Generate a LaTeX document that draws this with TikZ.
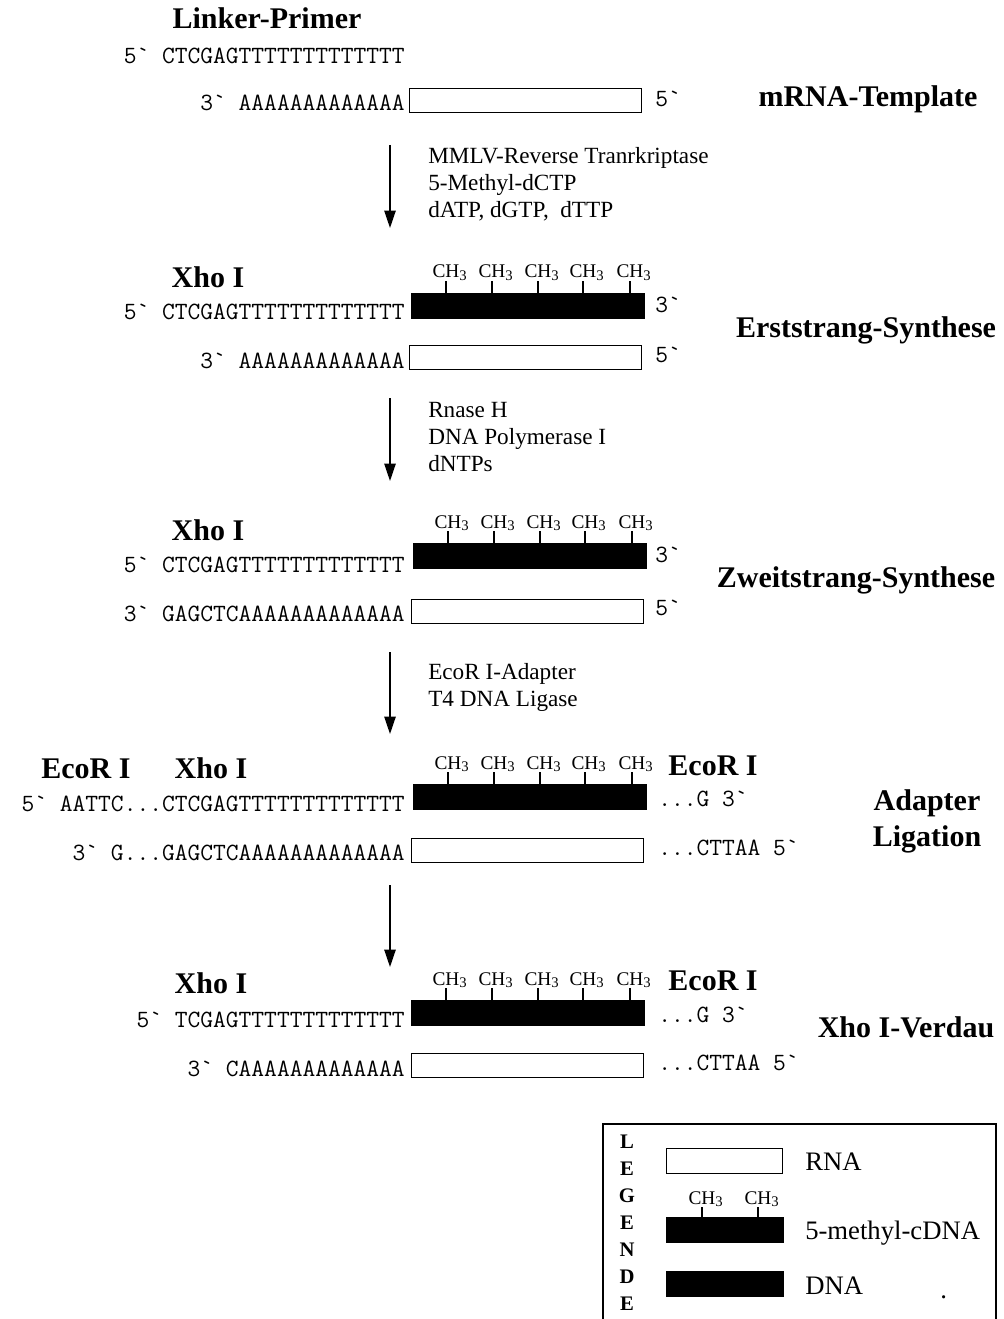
\documentclass[tikz,border=0pt]{standalone}
\usepackage{fontspec}
\setmainfont{Liberation Serif}
\usetikzlibrary{arrows.meta}
\tikzset{
 seq/.style={font=\ttfamily\fontsize{18.6}{20}\selectfont, inner sep=0pt, anchor=base east},
 seqr/.style={font=\ttfamily\fontsize{18.6}{20}\selectfont, inner sep=0pt, anchor=base west},
 head/.style={font=\bfseries\fontsize{22.5}{24}\selectfont, inner sep=0pt, anchor=base},
 steplbl/.style={font=\fontsize{17.4}{19}\selectfont, inner sep=0pt, anchor=base west},
 rnabox/.style={draw, line width=1.1pt, fill=white, inner sep=0pt, anchor=north west, minimum width=174pt, minimum height=18pt},
 dnabox/.style={fill=black, inner sep=0pt, anchor=north west, minimum width=175.5pt, minimum height=19.5pt},
 ch/.style={font=\fontsize{14.5}{16}\selectfont, inner sep=0pt, anchor=base},
 methtick/.style={line width=0.8pt},
 flow/.style={line width=1.1pt, -{Triangle[length=13pt,width=8.5pt]}},
 legletter/.style={font=\bfseries\fontsize{15.5}{16}\selectfont, inner sep=0pt, anchor=base},
 legtext/.style={font=\fontsize{20}{22}\selectfont, inner sep=0pt, anchor=base west},
}
\newcommand\subthree{\rlap{\raisebox{-0.3ex}{\fontsize{11}{12}\selectfont 3}}}
\newcommand\methylgroup[4]{% #1 box name, #2 box left x, #3 baseline y, #4 prefix
 \foreach \dx [count=\i] in {35,81,127,172,219} {
   \node[ch] (#4\i) at ({#2+\dx},#3) {CH\subthree};
   \draw[methtick] ([yshift=-2.4pt]#4\i.base) -- (#4\i.base |- #1.north);
 }}
\begin{document}
\begin{tikzpicture}[x=0.75pt,y=-0.75pt]
\useasboundingbox (0,0) rectangle (1003,1319);
\clip (0,0) rectangle (1003,1319);
\fill[white] (0,0) rectangle (1003,1319);

% ---- Row 1
\node[head] (lp) at (267,29) {Linker-Primer};
\node[seq] (p1) at (405,64) {5` CTCGAGTTTTTTTTTTTTT};
\node[rnabox] (r1) at (409,88) {};
\node[seq] (q1) at (405,111) {3` AAAAAAAAAAAAA};
\node[seqr] (e1) at (655,107) {5`};
\node[head] (t1) at (868,107) {mRNA-Template};

% ---- Arrow 1
\coordinate (a1s) at (390,145);
\coordinate (a1e) at (390,228);
\draw[flow] (a1s) -- (a1e);
\node[steplbl] (l11) at (428,164) {MMLV-Reverse Tranrkriptase};
\node[steplbl] (l12) at (428,191) {5-Methyl-dCTP};
\node[steplbl] (l13) at (428,218) {dATP, dGTP,\ \ dTTP};

% ---- Row 2
\node[head] (x2) at (208,288) {Xho I};
\node[dnabox] (b2) at (411,293) {};
\methylgroup{b2}{411}{278}{m2}
\node[seq] (p2) at (405,320) {5` CTCGAGTTTTTTTTTTTTT};
\node[seqr] (e2a) at (655,312) {3`};
\node[rnabox] (r2) at (409,345) {};
\node[seq] (q2) at (405,368) {3` AAAAAAAAAAAAA};
\node[seqr] (e2b) at (655,362) {5`};
\node[head] (t2) at (866,337) {Erststrang-Synthese};

% ---- Arrow 2
\coordinate (a2s) at (390,398);
\coordinate (a2e) at (390,481);
\draw[flow] (a2s) -- (a2e);
\node[steplbl] (l21) at (428,417) {Rnase H};
\node[steplbl] (l22) at (428,444) {DNA Polymerase I};
\node[steplbl] (l23) at (428,471) {dNTPs};

% ---- Row 3
\node[head] (x3) at (208,540) {Xho I};
\node[dnabox] (b3) at (413,543) {};
\methylgroup{b3}{413}{528}{m3}
\node[seq] (p3) at (405,572) {5` CTCGAGTTTTTTTTTTTTT};
\node[seqr] (e3a) at (655,562) {3`};
\node[rnabox] (r3) at (411,599) {};
\node[seq] (q3) at (405,621) {3` GAGCTCAAAAAAAAAAAAA};
\node[seqr] (e3b) at (655,615) {5`};
\node[head] (t3) at (856,587) {Zweitstrang-Synthese};

% ---- Arrow 3
\coordinate (a3s) at (390,652);
\coordinate (a3e) at (390,734);
\draw[flow] (a3s) -- (a3e);
\node[steplbl] (l31) at (428,679) {EcoR I-Adapter};
\node[steplbl] (l32) at (428,706) {T4 DNA Ligase};

% ---- Row 4
\node[head] (k4) at (86,778) {EcoR I};
\node[head] (x4) at (211,778) {Xho I};
\node[dnabox] (b4) at (413,784) {};
\methylgroup{b4}{413}{769}{m4}
\node[head] (k4r) at (713,775) {EcoR I};
\node[seq] (p4) at (405,811) {5` AATTC...CTCGAGTTTTTTTTTTTTT};
\node[seqr] (e4a) at (658,806) {...G 3`};
\node[rnabox] (r4) at (411,838) {};
\node[seq] (q4) at (405,860) {3` G...GAGCTCAAAAAAAAAAAAA};
\node[seqr] (e4b) at (658,855) {...CTTAA 5`};
\node[head] (t4a) at (927,810) {Adapter};
\node[head] (t4b) at (927,846) {Ligation};

% ---- Arrow 4
\coordinate (a4s) at (390,885);
\coordinate (a4e) at (390,967);
\draw[flow] (a4s) -- (a4e);

% ---- Row 5
\node[head] (x5) at (211,993) {Xho I};
\node[dnabox] (b5) at (411,1000) {};
\methylgroup{b5}{411}{985}{m5}
\node[head] (k5r) at (713,990) {EcoR I};
\node[seq] (p5) at (405,1027) {5` TCGAGTTTTTTTTTTTTT};
\node[seqr] (e5a) at (658,1022) {...G 3`};
\node[rnabox] (r5) at (411,1053) {};
\node[seq] (q5) at (405,1076) {3` CAAAAAAAAAAAAA};
\node[seqr] (e5b) at (658,1070) {...CTTAA 5`};
\node[head] (t5) at (906,1037) {Xho I-Verdau};

% ---- Legend
\draw[line width=1.4pt] (603,1340) -- (603,1124) -- (996,1124) -- (996,1340);
\foreach \ch [count=\i from 0] in {L,E,G,E,N,D,E}
  \node[legletter] (lg\i) at (627,{1148+27*\i}) {\ch};
\node[draw, line width=1.1pt, inner sep=0pt, anchor=north west, minimum width=87pt, minimum height=18.5pt] (lr) at (666,1148) {};
\node[legtext] (lrt) at (805,1170) {RNA};
\node[fill=black, inner sep=0pt, anchor=north west, minimum width=88.5pt, minimum height=19.5pt] (lm) at (666,1217) {};
\node[ch] (lc1) at (702,1204) {CH\subthree};
\node[ch] (lc2) at (758,1204) {CH\subthree};
\draw[methtick] ([yshift=-2.4pt]lc1.base) -- (lc1.base |- lm.north);
\draw[methtick] ([yshift=-2.4pt]lc2.base) -- (lc2.base |- lm.north);
\node[legtext] (lmt) at (805,1239) {5-methyl-cDNA};
\node[fill=black, inner sep=0pt, anchor=north west, minimum width=88.5pt, minimum height=19.5pt] (ld) at (666,1271) {};
\node[legtext] (ldt) at (805,1294) {DNA};
\node[legtext] (dot) at (940,1298) {.};
\end{tikzpicture}
\end{document}
